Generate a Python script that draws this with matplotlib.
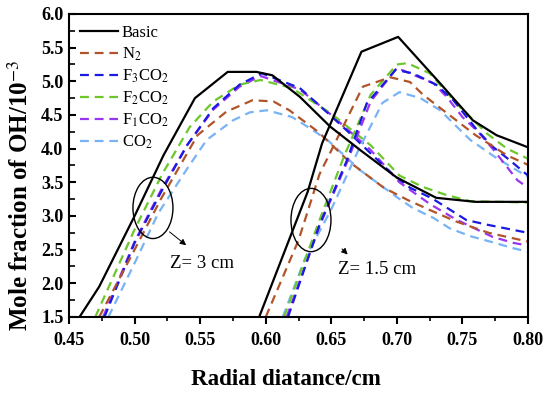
import matplotlib
matplotlib.use('Agg')
import matplotlib.pyplot as plt
from matplotlib.patches import Ellipse
from matplotlib.ticker import MultipleLocator, FormatStrFormatter

plt.rcParams['font.family'] = ['Liberation Serif', 'DejaVu Serif']
plt.rcParams['mathtext.fontset'] = 'stix'

# Z = 3 cm group
basic3_x = [0.458, 0.473, 0.500, 0.522, 0.546, 0.571, 0.593, 0.605, 0.626, 0.649, 0.672, 0.700, 0.730, 0.760, 0.800]
basic3_y = [1.50, 1.95, 3.00, 3.90, 4.75, 5.14, 5.14, 5.09, 4.77, 4.33, 3.98, 3.57, 3.27, 3.21, 3.21]
n2_3_x = [0.473, 0.500, 0.520, 0.548, 0.570, 0.590, 0.606, 0.618, 0.640, 0.664, 0.690, 0.708, 0.725, 0.745, 0.770, 0.800]
n2_3_y = [1.50, 2.50, 3.25, 4.20, 4.55, 4.72, 4.70, 4.57, 4.25, 3.80, 3.42, 3.24, 3.09, 2.92, 2.75, 2.62]
f3_3_x = [0.477, 0.500, 0.520, 0.540, 0.560, 0.580, 0.597, 0.626, 0.649, 0.664, 0.695, 0.710, 0.727, 0.753, 0.769, 0.800]
f3_3_y = [1.50, 2.60, 3.35, 4.05, 4.60, 4.95, 5.12, 4.90, 4.50, 4.23, 3.65, 3.42, 3.26, 2.94, 2.87, 2.75]
f2_3_x = [0.470, 0.500, 0.521, 0.542, 0.560, 0.580, 0.596, 0.620, 0.634, 0.650, 0.680, 0.702, 0.720, 0.738, 0.756, 0.800]
f2_3_y = [1.50, 2.80, 3.62, 4.32, 4.70, 4.95, 5.02, 4.90, 4.72, 4.52, 4.05, 3.60, 3.43, 3.31, 3.22, 3.20]
f1_3_x = [0.476, 0.500, 0.520, 0.540, 0.560, 0.580, 0.596, 0.626, 0.650, 0.680, 0.702, 0.725, 0.745, 0.761, 0.773, 0.789, 0.800]
f1_3_y = [1.50, 2.62, 3.38, 4.05, 4.58, 4.92, 5.08, 4.88, 4.50, 3.98, 3.50, 3.18, 2.95, 2.80, 2.69, 2.60, 2.56]
co2_3_x = [0.480, 0.500, 0.518, 0.540, 0.555, 0.575, 0.588, 0.601, 0.620, 0.634, 0.647, 0.672, 0.700, 0.712, 0.728, 0.740, 0.756, 0.773, 0.789, 0.800]
co2_3_y = [1.50, 2.30, 3.04, 3.70, 4.13, 4.42, 4.54, 4.57, 4.47, 4.30, 4.13, 3.68, 3.28, 3.12, 2.97, 2.82, 2.70, 2.61, 2.52, 2.47]

# Z = 1.5 cm group
basic15_x = [0.595, 0.632, 0.643, 0.673, 0.701, 0.733, 0.758, 0.776, 0.800]
basic15_y = [1.50, 3.36, 4.08, 5.44, 5.66, 4.97, 4.42, 4.20, 4.02]
n2_15_x = [0.600, 0.625, 0.641, 0.654, 0.674, 0.695, 0.710, 0.720, 0.740, 0.760, 0.784, 0.800]
n2_15_y = [1.50, 2.64, 3.62, 4.13, 4.92, 5.06, 4.99, 4.80, 4.50, 4.20, 3.90, 3.76]
f3_15_x = [0.617, 0.641, 0.662, 0.677, 0.699, 0.712, 0.730, 0.743, 0.761, 0.773, 0.786, 0.800]
f3_15_y = [1.50, 2.87, 3.83, 4.67, 5.17, 5.12, 4.95, 4.72, 4.28, 4.03, 3.83, 3.60]
f2_15_x = [0.614, 0.641, 0.660, 0.680, 0.700, 0.708, 0.725, 0.748, 0.769, 0.784, 0.800]
f2_15_y = [1.50, 2.94, 3.90, 4.80, 5.25, 5.27, 5.12, 4.62, 4.22, 4.00, 3.85]
f1_15_x = [0.616, 0.641, 0.662, 0.680, 0.700, 0.728, 0.738, 0.750, 0.762, 0.773, 0.792, 0.800]
f1_15_y = [1.50, 2.85, 3.80, 4.70, 5.20, 4.97, 4.77, 4.47, 4.25, 4.00, 3.53, 3.42]
co2_15_x = [0.613, 0.630, 0.650, 0.670, 0.689, 0.702, 0.718, 0.733, 0.746, 0.756, 0.776, 0.794, 0.800]
co2_15_y = [1.50, 2.37, 3.10, 3.95, 4.68, 4.84, 4.75, 4.57, 4.32, 4.13, 3.86, 3.65, 3.58]

labels = ['Basic', 'N$_2$', 'F$_3$CO$_2$', 'F$_2$CO$_2$', 'F$_1$CO$_2$', 'CO$_2$']
colors = ['black', '#B0552A', '#1A1AE0', '#6CC82A', '#9A35F0', '#78B4F5']

groups = [
    [(basic3_x, basic3_y), (n2_3_x, n2_3_y), (f3_3_x, f3_3_y),
     (f2_3_x, f2_3_y), (f1_3_x, f1_3_y), (co2_3_x, co2_3_y)],
    [(basic15_x, basic15_y), (n2_15_x, n2_15_y), (f3_15_x, f3_15_y),
     (f2_15_x, f2_15_y), (f1_15_x, f1_15_y), (co2_15_x, co2_15_y)],
]

fig = plt.figure(figsize=(5.5, 3.93), dpi=100)
ax = fig.add_axes([0.1255, 0.1934, 0.8345, 0.771])

for g, group in enumerate(groups):
    # draw basic last so it sits on top
    for i in [5, 4, 3, 2, 1, 0]:
        x, y = group[i]
        lbl = labels[i] if g == 0 else None
        if i == 0:
            ax.plot(x, y, color=colors[i], lw=1.6, label=lbl, zorder=5)
        else:
            ax.plot(x, y, color=colors[i], lw=1.6, ls=(0, (4, 2.6)), label=lbl)

ax.set_xlim(0.45, 0.80)
ax.set_ylim(1.5, 6.0)

# ellipses and notes
ax.add_patch(Ellipse((0.514, 3.12), 0.0305, 0.91, fill=False, ec='black', lw=1.0, zorder=6))
ax.add_patch(Ellipse((0.6345, 2.94), 0.0305, 0.94, fill=False, ec='black', lw=1.0, zorder=6))
ax.annotate('', xy=(0.541, 2.54), xytext=(0.525, 2.79),
            arrowprops=dict(arrowstyle='-|>', color='black', lw=0.7, mutation_scale=9))
ax.annotate('', xy=(0.664, 2.40), xytext=(0.6567, 2.54),
            arrowprops=dict(arrowstyle='-|>', color='black', lw=0.7, mutation_scale=9))
ax.text(0.527, 2.30, 'Z= 3 cm', fontsize=13.5, va='center', ha='left')
ax.text(0.655, 2.20, 'Z= 1.5 cm', fontsize=13.5, va='center', ha='left')

ax.xaxis.set_major_locator(MultipleLocator(0.05))
ax.xaxis.set_minor_locator(MultipleLocator(0.025))
ax.yaxis.set_major_locator(MultipleLocator(0.5))
ax.yaxis.set_minor_locator(MultipleLocator(0.25))
ax.xaxis.set_major_formatter(FormatStrFormatter('%.2f'))
ax.yaxis.set_major_formatter(FormatStrFormatter('%.1f'))
ax.tick_params(axis='x', which='major', direction='out', length=5, width=1.5, labelsize=13, pad=6)
ax.tick_params(axis='x', which='minor', direction='out', length=3, width=1.2)
ax.tick_params(axis='y', which='major', direction='in', length=5, width=1.5, labelsize=13, pad=4)
ax.tick_params(axis='y', which='minor', direction='in', length=4, width=1.2)
for lab in ax.get_xticklabels() + ax.get_yticklabels():
    lab.set_fontweight('bold')
for sp in ax.spines.values():
    sp.set_linewidth(1.5)

ax.set_xlabel('Radial diatance/cm', fontsize=16.6, fontweight='bold')
ax.set_ylabel('Mole fraction of OH/10$^{-3}$', fontsize=18, fontweight='bold')
ax.xaxis.set_label_coords(0.473, -0.172)
ax.yaxis.set_label_coords(-0.078, 0.40)

handles, lbls = ax.get_legend_handles_labels()
order = [lbls.index(l) for l in labels]
ax.legend([handles[k] for k in order], [lbls[k] for k in order], loc='upper left',
          frameon=False, fontsize=12, handlelength=2.3, labelspacing=0.28,
          borderaxespad=0.25, handletextpad=0.2)

fig.savefig('out.png', dpi=100)
